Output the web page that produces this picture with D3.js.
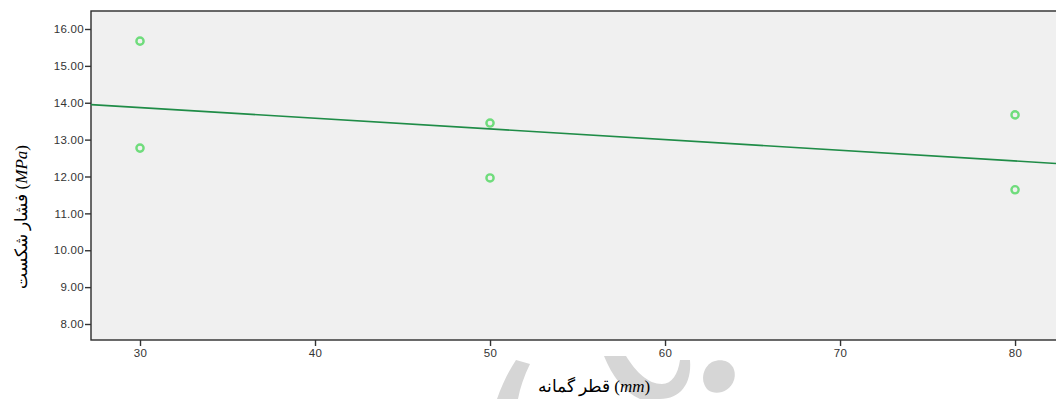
<!DOCTYPE html>
<html>
<head>
<meta charset="utf-8">
<script src="https://cdn.jsdelivr.net/npm/d3@7"></script>
<style>
  html, body { margin: 0; padding: 0; background: #ffffff; }
  svg { display: block; }
</style>
</head>
<body>
<svg id="chart" width="1056" height="399"></svg>
<script>
// ---- data ----
const diameters = [30, 30, 50, 50, 80, 80];
const pressures = [15.67, 12.77, 13.45, 11.96, 13.67, 11.64];
const xTickValues = [30, 40, 50, 60, 70, 80];
const yTickValues = [8, 9, 10, 11, 12, 13, 14, 15, 16];
const xTitle = "قطر گمانه ";
const xUnit = "mm";
const yTitle = "فشار شکست ";
const yUnit = "MPa";

// ---- layout ----
const W = 1056, H = 399;
const plot = { left: 91, top: 11, right: 1056, bottom: 340 };
const svg = d3.select("#chart");

const x = d3.scaleLinear().domain([27.2, 82.34]).range([plot.left, plot.right]);
const y = d3.scaleLinear().domain([7.566, 16.488]).range([plot.bottom, plot.top]);

// watermark (decorative, light gray)
const wm = svg.append("g").attr("fill", "#d6d6d6");
wm.append("path").attr("d", "M497,399 C502,385 508,372 516,360 L530,364 C524,376 520,388 518,399 Z");
wm.append("path").attr("d", "M604,356 L626,356 C636,372 648,384 662,384 C672,384 678,374 680,360 L690,360 C692,384 680,399 660,399 L640,399 C624,392 612,376 604,356 Z");
wm.append("path").attr("d", "M712,362 C726,356 738,366 734,380 C730,392 716,396 708,390 C700,382 702,368 712,362 Z");

// plot background
svg.append("rect")
  .attr("x", plot.left).attr("y", plot.top)
  .attr("width", plot.right - plot.left + 10).attr("height", plot.bottom - plot.top)
  .attr("fill", "#f0f0f0").attr("stroke", "#2b2b2b").attr("stroke-width", 1.4);

// axes
const yAxis = d3.axisLeft(y).tickValues(yTickValues).tickFormat(d3.format(".2f")).tickSize(6).tickSizeOuter(0);
const gy = svg.append("g").attr("transform", `translate(${plot.left},0)`).call(yAxis);
gy.select(".domain").remove();
gy.selectAll(".tick line").attr("stroke", "#333").attr("stroke-width", 1.4);
gy.selectAll(".tick text").attr("fill", "#333").attr("font-family", "Liberation Sans, Arial, sans-serif")
  .attr("font-size", 11.5).attr("x", -7).attr("letter-spacing", 0.3);

const xAxis = d3.axisBottom(x).tickValues(xTickValues).tickFormat(d3.format("d")).tickSize(6).tickSizeOuter(0);
const gx = svg.append("g").attr("transform", `translate(0,${plot.bottom})`).call(xAxis);
gx.select(".domain").remove();
gx.selectAll(".tick line").attr("stroke", "#333").attr("stroke-width", 1.4);
gx.selectAll(".tick text").attr("fill", "#333").attr("font-family", "Liberation Sans, Arial, sans-serif")
  .attr("font-size", 11.5).attr("y", 9).attr("letter-spacing", 0.3);

// fit line (least squares on the data)
const mx = d3.mean(diameters), my = d3.mean(pressures);
const sxy = d3.sum(diameters, (d, i) => (d - mx) * (pressures[i] - my));
const sxx = d3.sum(diameters, d => (d - mx) * (d - mx));
const slope = sxy / sxx, intercept = my - slope * mx;
const [x0, x1] = x.domain();
svg.append("line")
  .attr("x1", x(x0)).attr("y1", y(intercept + slope * x0))
  .attr("x2", x(x1)).attr("y2", y(intercept + slope * x1))
  .attr("stroke", "#1f8c47").attr("stroke-width", 1.6);

// points
svg.append("g").selectAll("circle")
  .data(diameters.map((d, i) => ({ d, p: pressures[i] })))
  .join("circle")
  .attr("cx", o => x(o.d)).attr("cy", o => y(o.p))
  .attr("r", 3.6)
  .attr("fill", "none").attr("stroke", "#6fdc7c").attr("stroke-width", 2.4);

// axis titles
const xt = svg.append("text")
  .attr("x", 594).attr("y", 392)
  .attr("text-anchor", "middle").attr("direction", "ltr")
  .attr("font-family", "Liberation Serif, Times New Roman, serif").attr("font-size", 17).attr("fill", "#000");
xt.append("tspan").text(xTitle + "(");
xt.append("tspan").attr("font-style", "italic").text(xUnit);
xt.append("tspan").text(")");

const yt = svg.append("text")
  .attr("transform", "translate(27,217) rotate(-90)")
  .attr("text-anchor", "middle").attr("direction", "ltr")
  .attr("font-family", "Liberation Serif, Times New Roman, serif").attr("font-size", 17).attr("fill", "#000");
yt.append("tspan").text(yTitle + "(");
yt.append("tspan").attr("font-style", "italic").text(yUnit);
yt.append("tspan").text(")");
</script>
</body>
</html>
